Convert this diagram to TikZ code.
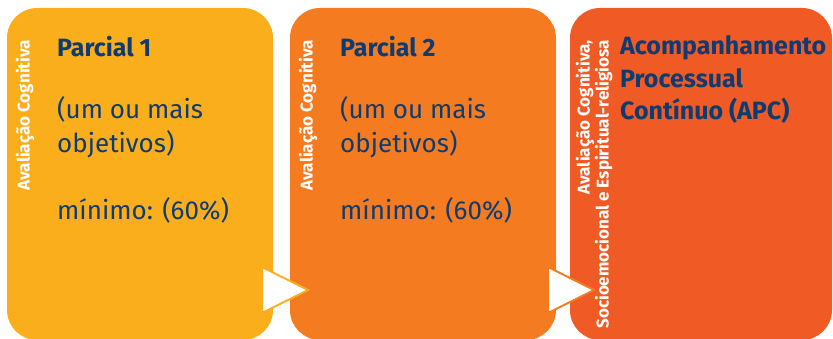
\documentclass[tikz,border=0pt]{standalone}
\usepackage{fontspec}
\setmainfont{Fira Sans}
\usepackage{tikz}

\definecolor{boxA}{HTML}{FAAE1B}
\definecolor{boxB}{HTML}{F47B20}
\definecolor{boxC}{HTML}{F05A24}
\definecolor{ink}{HTML}{0E3C72}

\begin{document}
\begin{tikzpicture}[x=1pt,y=-1pt]
            \tikzstyle{panel}=[rounded corners=30pt]
            \tikzstyle{side}=[white,font=\fontsize{17}{19}\selectfont\bfseries,rotate=90,anchor=east,align=right,inner sep=0pt]
            \tikzstyle{title}=[ink,font=\fontsize{25}{30}\selectfont\bfseries,anchor=base west,inner sep=0pt]
            \tikzstyle{body}=[ink,font=\fontsize{26}{30}\selectfont,anchor=base west,inner sep=0pt]
            \tikzstyle{play}=[fill=white,line width=2pt,line join=miter]

                \useasboundingbox (0,0) rectangle (833,339);

                % panels
                \fill[boxA,panel] (7,8) rectangle (273,340);
                \fill[boxB,panel] (290,8) rectangle (556,340);
                \fill[boxC,panel] (570,8) rectangle (832,340);

                \foreach \n/\x in {1/7, 2/290} {
                    \node[side] (side-\n) at (\x+18,40) {Avaliação Cognitiva};
                    \node[title] (title-\n) at (\x+50,57) {Parcial \n};
                    \node[body] (um-\n) at (\x+50,119) {(um ou mais};
                    \node[body] (obj-\n) at (\x+50,153) {objetivos)};
                    \node[body] (min-\n) at (\x+50,220) {mínimo: (60\%)};
                }

                \node[side] (side-3) at (594,40) {Avaliação Cognitiva,\\Socioemocional e Espiritual-religiosa};
                \node[title] (apc-a) at (620,55) {Acompanhamento};
                \node[title] (apc-b) at (620,88) {Processual};
                \node[title] (apc-c) at (620,120) {Contínuo (APC)};

                % arrows between panels
                \foreach \x/\c in {262/boxA, 548/boxB}
                    \draw[play,draw=\c] (\x,267) -- (\x,313) -- (\x+46,290) -- cycle;
        \end{tikzpicture}
\end{document}
